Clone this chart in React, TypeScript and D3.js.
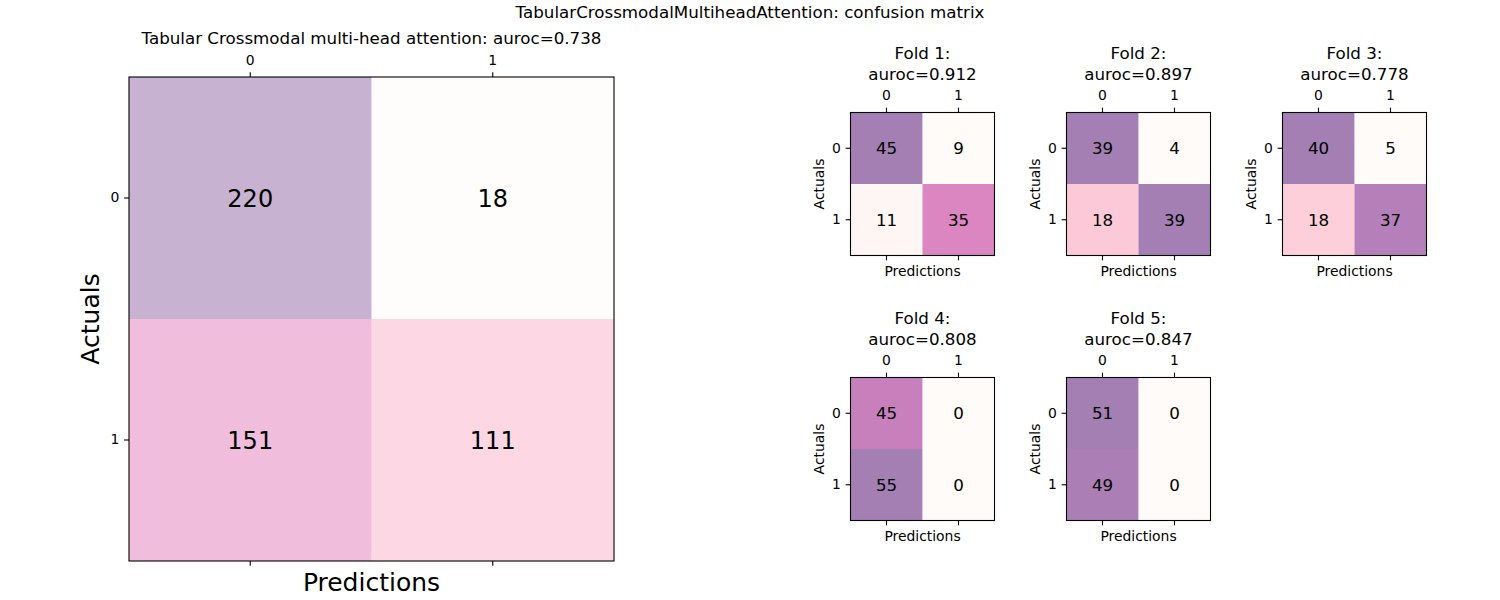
import React, { useEffect, useRef } from "react";
import * as d3 from "d3";

// class labels shared by every matrix
const classLabels = ["0", "1"];

// pooled confusion matrix over all folds (rows = actuals, cols = predictions)
const overallTitle = "Tabular Crossmodal multi-head attention";
const overallAuroc = 0.738;
const overallMatrix = [
  [220, 18],
  [151, 111],
];

// per-fold results
const foldNames = ["Fold 1", "Fold 2", "Fold 3", "Fold 4", "Fold 5"];
const foldAurocs = [0.912, 0.897, 0.778, 0.808, 0.847];
const foldMatrices = [
  [
    [45, 9],
    [11, 35],
  ],
  [
    [39, 4],
    [18, 39],
  ],
  [
    [40, 5],
    [18, 37],
  ],
  [
    [45, 0],
    [55, 0],
  ],
  [
    [51, 0],
    [49, 0],
  ],
];

const suptitle = "TabularCrossmodalMultiheadAttention: confusion matrix";

// RdPu, linearly segmented like matplotlib
const rdpu = d3.piecewise(d3.interpolateRgb, [
  "#fff7f3",
  "#fde0dd",
  "#fcc5c0",
  "#fa9fb5",
  "#f768a1",
  "#dd3497",
  "#ae017e",
  "#7a0177",
  "#49006a",
]);

const FONT = "DejaVu Sans, sans-serif";
const TICK = 4.86;

interface MatrixOpts {
  x0: number;
  y0: number;
  w: number;
  h: number;
  matrix: number[][];
  alpha: number;
  titleLines: string[];
  titleBaselines: number[];
  titleSize: number;
  cellSize: number;
  labelSize: number;
  xlabelOffset: number;
  ylabelOffset: number;
}

function drawMatrix(svg: any, o: MatrixOpts) {
  const g = svg.append("g");
  const flat = o.matrix.flat();
  const color = d3
    .scaleSequential(rdpu)
    .domain([d3.min(flat) as number, d3.max(flat) as number]);

  const x = d3.scaleBand().domain(classLabels).range([o.x0, o.x0 + o.w]);
  const y = d3.scaleBand().domain(classLabels).range([o.y0, o.y0 + o.h]);

  const cells: any[] = [];
  o.matrix.forEach((row, i) =>
    row.forEach((v, j) => cells.push({ r: classLabels[i], c: classLabels[j], v }))
  );

  g.selectAll(".cell")
    .data(cells)
    .enter()
    .append("rect")
    .attr("x", (d: any) => x(d.c))
    .attr("y", (d: any) => y(d.r))
    .attr("width", x.bandwidth())
    .attr("height", y.bandwidth())
    .attr("fill", (d: any) => color(d.v))
    .attr("fill-opacity", o.alpha);

  g.selectAll(".val")
    .data(cells)
    .enter()
    .append("text")
    .attr("x", (d: any) => (x(d.c) as number) + x.bandwidth() / 2)
    .attr("y", (d: any) => (y(d.r) as number) + y.bandwidth() / 2)
    .attr("dy", "0.36em")
    .attr("text-anchor", "middle")
    .style("font-size", o.cellSize + "px")
    .style("fill", "#000")
    .text((d: any) => d.v);

  // frame
  g.append("rect")
    .attr("x", o.x0)
    .attr("y", o.y0)
    .attr("width", o.w)
    .attr("height", o.h)
    .attr("fill", "none")
    .attr("stroke", "#000")
    .attr("stroke-width", 1.1);

  const styleAxis = (a: any) => {
    a.select(".domain").remove();
    a.selectAll("line").attr("stroke", "#000").attr("stroke-width", 1.1);
    a.selectAll("text")
      .style("font-size", "13.9px")
      .style("font-family", FONT)
      .attr("fill", "#000");
  };

  g.append("g")
    .attr("transform", `translate(0,${o.y0})`)
    .call(d3.axisTop(x).tickSize(TICK).tickPadding(7.5))
    .call(styleAxis);

  g.append("g")
    .attr("transform", `translate(0,${o.y0 + o.h})`)
    .call(d3.axisBottom(x).tickSize(TICK).tickFormat(() => ""))
    .call(styleAxis);

  g.append("g")
    .attr("transform", `translate(${o.x0},0)`)
    .call(d3.axisLeft(y).tickSize(TICK).tickPadding(TICK))
    .call(styleAxis);

  const cx = o.x0 + o.w / 2;
  const cy = o.y0 + o.h / 2;

  o.titleLines.forEach((line, i) => {
    g.append("text")
      .attr("x", cx)
      .attr("y", o.titleBaselines[i])
      .attr("text-anchor", "middle")
      .style("font-size", o.titleSize + "px")
      .text(line);
  });

  g.append("text")
    .attr("x", cx)
    .attr("y", o.y0 + o.h + o.xlabelOffset)
    .attr("text-anchor", "middle")
    .style("font-size", o.labelSize + "px")
    .text("Predictions");

  g.append("text")
    .attr("transform", `translate(${o.x0 - o.ylabelOffset},${cy}) rotate(-90)`)
    .attr("text-anchor", "middle")
    .style("font-size", o.labelSize + "px")
    .text("Actuals");
}

export default function App() {
  const ref = useRef<SVGSVGElement>(null);

  useEffect(() => {
    const svg = d3.select(ref.current);
    svg.selectAll("*").remove();

    svg
      .append("rect")
      .attr("width", 1500)
      .attr("height", 600)
      .attr("fill", "#fff");

    svg
      .append("text")
      .attr("x", 750)
      .attr("y", 18)
      .attr("text-anchor", "middle")
      .style("font-size", "16.7px")
      .text(suptitle);

    // big pooled matrix
    drawMatrix(svg, {
      x0: 129,
      y0: 77,
      w: 485,
      h: 484,
      matrix: overallMatrix,
      alpha: 0.3,
      titleLines: [`${overallTitle}: auroc=${overallAuroc.toFixed(3)}`],
      titleBaselines: [44],
      titleSize: 16.7,
      cellSize: 24,
      labelSize: 25,
      xlabelOffset: 30,
      ylabelOffset: 30,
    });

    // small per-fold matrices, 3 per row
    foldMatrices.forEach((m, k) => {
      const col = k % 3;
      const row = Math.floor(k / 3);
      const x0 = 850.5 + col * 216;
      const y0 = 112.5 + row * 265;
      drawMatrix(svg, {
        x0,
        y0,
        w: 144,
        h: 143,
        matrix: m,
        alpha: 0.5,
        titleLines: [`${foldNames[k]}:`, `auroc=${foldAurocs[k].toFixed(3)}`],
        titleBaselines: [y0 - 54, y0 - 32.5],
        titleSize: 16.7,
        cellSize: 16.7,
        labelSize: 13.9,
        xlabelOffset: 20.7,
        ylabelOffset: 27,
      });
    });
  }, []);

  return (
    <svg
      ref={ref}
      width={1500}
      height={600}
      style={{ position: "absolute", left: 0, top: 0, fontFamily: FONT }}
    />
  );
}
